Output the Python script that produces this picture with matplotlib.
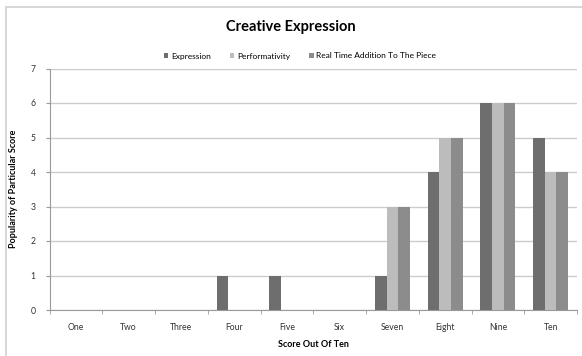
import numpy as np
import matplotlib
matplotlib.use('Agg')
import matplotlib.pyplot as plt
from matplotlib.patches import Rectangle

categories = ['One', 'Two', 'Three', 'Four', 'Five', 'Six', 'Seven', 'Eight', 'Nine', 'Ten']
expression = [0, 0, 0, 1, 1, 0, 1, 4, 6, 5]
performativity = [0, 0, 0, 0, 0, 0, 3, 5, 6, 4]
real_time = [0, 0, 0, 0, 0, 0, 3, 5, 6, 4]
series_names = ['Expression', 'Performativity', 'Real Time Addition To The Piece']
colors = ['#6e6e6e', '#bcbcbc', '#8c8c8c']

plt.rcParams['font.family'] = ['Lato', 'DejaVu Sans']

W, H = 582, 356
fig = plt.figure(figsize=(W / 100, H / 100), dpi=100)
# plot area in pixels: left 49.5, right 577, top 68.5, bottom 310
ax = fig.add_axes([49.5 / W, 1 - 310 / H, (577 - 49.5) / W, (310 - 68.5) / H])

# outer chart frame (only left and top edges are visible)
fig.patches.append(Rectangle((6 / W, -0.05), 1.2, 1 - 7 / H + 0.05,
                             transform=fig.transFigure, fill=False,
                             edgecolor='#d4d4d4', linewidth=1.3))

x = np.arange(len(categories))
bw = 0.222
for i, (vals, name, c) in enumerate(zip([expression, performativity, real_time], series_names, colors)):
    ax.bar(x + (i - 1) * bw, vals, width=bw, color=c, label=name, zorder=3)

ax.set_xlim(-0.5, len(categories) - 0.5)
ax.set_ylim(0, 7)
ax.set_yticks(range(0, 8))
ax.set_xticks(x)
ax.set_xticklabels(categories)
ax.set_xticks(np.arange(-0.5, len(categories)), minor=True)
ax.tick_params(axis='x', which='major', length=0, labelsize=6.2, pad=9, colors='#333333')
ax.tick_params(axis='x', which='minor', length=3, color='#999999')
ax.tick_params(axis='y', length=3, color='#999999', labelsize=6.2, pad=7, labelcolor='#333333')
ax.yaxis.grid(True, color='#cccccc', linewidth=1.0, zorder=0)
for s in ['top', 'right']:
    ax.spines[s].set_visible(False)
ax.spines['left'].set_color('#999999')
ax.spines['bottom'].set_color('#999999')

ax.set_xlabel('Score Out Of Ten', fontsize=6.5, fontweight='bold', labelpad=6)
ax.set_ylabel('Popularity of Particular Score', fontsize=6.5, fontweight='bold', labelpad=9)

fig.text(0.5, 1 - 27 / H, 'Creative Expression', ha='center', va='center',
         fontsize=10.5, fontweight='bold')
fig.legend(loc='center', bbox_to_anchor=(300 / W, 1 - 56 / H), ncol=3, frameon=False,
           fontsize=6, handlelength=0.55, handleheight=0.55, handletextpad=0.3,
           columnspacing=2.3)

fig.savefig('out.png', dpi=100)
